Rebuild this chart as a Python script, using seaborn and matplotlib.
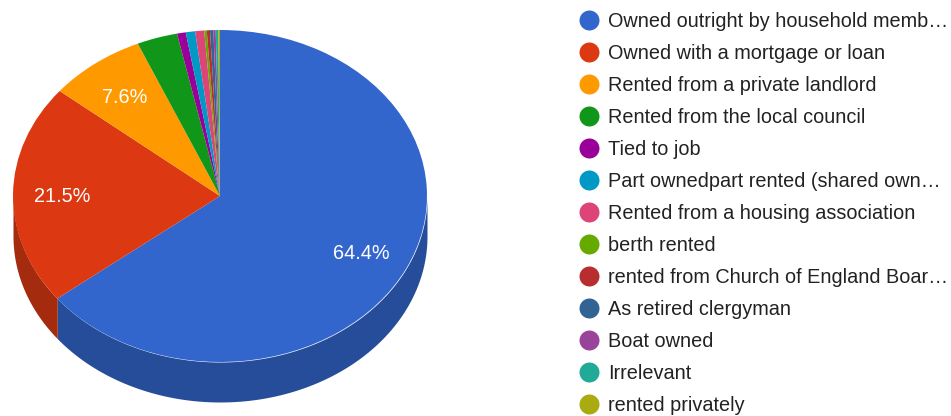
import numpy as np
import seaborn as sns
import matplotlib.pyplot as plt
from matplotlib.lines import Line2D

sns.set_theme(style='white')
plt.rcParams['font.family'] = ['Liberation Sans', 'DejaVu Sans']

labels = ['Owned outright by household memb…', 'Owned with a mortgage or loan',
          'Rented from a private landlord', 'Rented from the local council',
          'Tied to job', 'Part ownedpart rented (shared own…',
          'Rented from a housing association', 'berth rented',
          'rented from Church of England Boar…', 'As retired clergyman',
          'Boat owned', 'Irrelevant', 'rented privately']
values = [64.4, 21.5, 7.6, 3.17, 0.68, 0.73, 0.70, 0.20, 0.25, 0.26, 0.18, 0.20, 0.13]
colors = ['#3366cc', '#dc3912', '#ff9900', '#109618', '#990099', '#0099c6', '#dd4477',
          '#66aa00', '#b82e2e', '#316395', '#994499', '#22aa99', '#aaaa11']

W, H = 951, 416
cx, cy, rx, ry, depth = 220, 196, 207, 166, 40

fig = plt.figure(figsize=(W / 100, H / 100), dpi=100)
ax = fig.add_axes([0, 0, 1, 1])

# side wall first, only the front half of the ellipse shows
palette = sns.color_palette(colors)
cum = np.concatenate([[0], np.cumsum(values)]) / np.sum(values) * 360
d = depth / ry
for i, c in enumerate(palette):
    a, b = max(cum[i], 90), min(cum[i + 1], 270)
    if a >= b:
        continue
    t = np.radians(np.linspace(a, b, 100))
    dark = [v * 0.75 for v in c]
    ax.fill_between(np.sin(t), np.cos(t), np.cos(t) - d, color=dark, lw=0)

wedges, _, autotexts = ax.pie(values, colors=palette, startangle=90, counterclock=False,
                              autopct=lambda p: f'{p:.1f}%' if p > 5 else '',
                              pctdistance=0.76, wedgeprops={'lw': 0},
                              textprops={'color': 'white', 'fontsize': 14.35, 'va': 'center_baseline'})
ax.set_aspect('auto')
ax.set_xlim(-cx / rx, (W - cx) / rx)
ax.set_ylim((cy - H) / ry, cy / ry)
ax.axis('off')

handles = [Line2D([], [], ls='', marker='o', ms=14.4, mfc=c, mec='none') for c in palette]
ax.legend(handles, labels, loc='upper left', bbox_to_anchor=(579 / W, 1 - 11.7 / H),
          frameon=False, fontsize=14.35, labelcolor='#222222', borderpad=0, borderaxespad=0,
          handlelength=1.0, handletextpad=0.44, labelspacing=0.655)

fig.savefig('out.png', dpi=100)
